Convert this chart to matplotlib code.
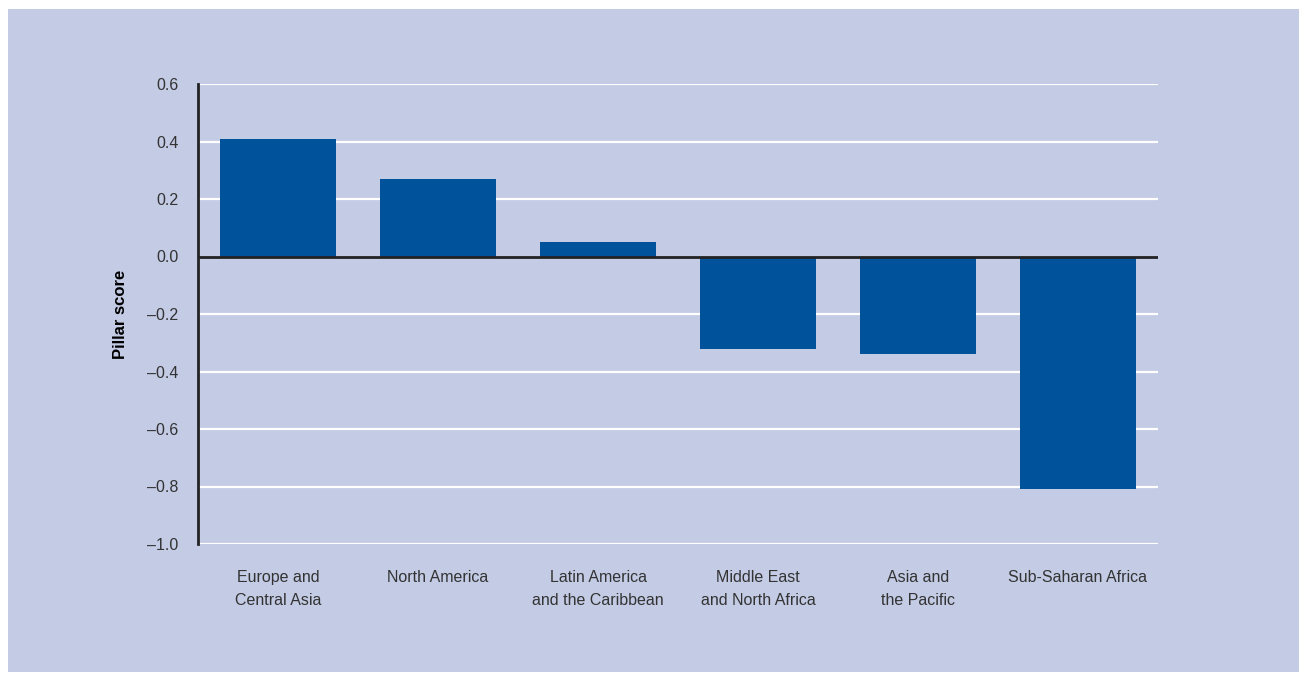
import matplotlib
matplotlib.use("Agg")
import matplotlib.pyplot as plt
from matplotlib.patches import Rectangle
from matplotlib import font_manager

categories = ["Europe and\nCentral Asia", "North America", "Latin America\nand the Caribbean",
              "Middle East\nand North Africa", "Asia and\nthe Pacific", "Sub-Saharan Africa"]
values = [0.41, 0.27, 0.05, -0.32, -0.34, -0.81]
yticks = [0.6, 0.4, 0.2, 0.0, -0.2, -0.4, -0.6, -0.8, -1.0]

names = {f.name for f in font_manager.fontManager.ttflist}
fam = ["Liberation Sans Narrow", "DejaVu Sans"] if "Liberation Sans Narrow" in names else ["Liberation Sans", "DejaVu Sans"]
plt.rcParams['font.family'] = fam

bg = "#C3CBE5"
bar_col = "#00529B"
txt = "#333333"

fig = plt.figure(figsize=(12.99, 6.73), dpi=100)
fig.patch.set_facecolor("white")
fig.patches.append(Rectangle((8/1299, 1/673), 1291/1299, 663/673, transform=fig.transFigure,
                             facecolor=bg, edgecolor="none", zorder=-10))

ax = fig.add_axes([198/1299, 129/673, 960/1299, 460/673])
ax.set_zorder(5)
ax.set_facecolor("none")
x = list(range(len(categories)))
ax.bar(x, values, width=0.725, color=bar_col, zorder=3)
ax.set_xlim(-0.5, 5.5)
ax.set_ylim(-1.0, 0.6)
ax.set_yticks(yticks)
ax.set_yticklabels([("\u2013" if v < 0 else "") + f"{abs(v):.1f}" for v in yticks],
                   fontsize=11.5, color=txt)
for v in yticks:
    if v != 0:
        ax.axhline(v, color="white", lw=1.6, zorder=1)
ax.axhline(0, color="#222222", lw=2, zorder=4)
ax.set_xticks(x)
ax.set_xticklabels(categories, fontsize=11.5, color=txt, linespacing=1.6)
ax.tick_params(axis="both", length=0)
ax.tick_params(axis="y", pad=14)
ax.tick_params(axis="x", pad=19)
for s in ["top", "right", "bottom"]:
    ax.spines[s].set_visible(False)
ax.spines["left"].set_color("#222222")
ax.spines["left"].set_linewidth(2)
ax.spines["left"].set_zorder(5)
ax.set_ylabel("Pillar score", fontsize=12, fontweight="bold", color="black", labelpad=14)

fig.savefig("out.png", dpi=100, facecolor=fig.get_facecolor())
